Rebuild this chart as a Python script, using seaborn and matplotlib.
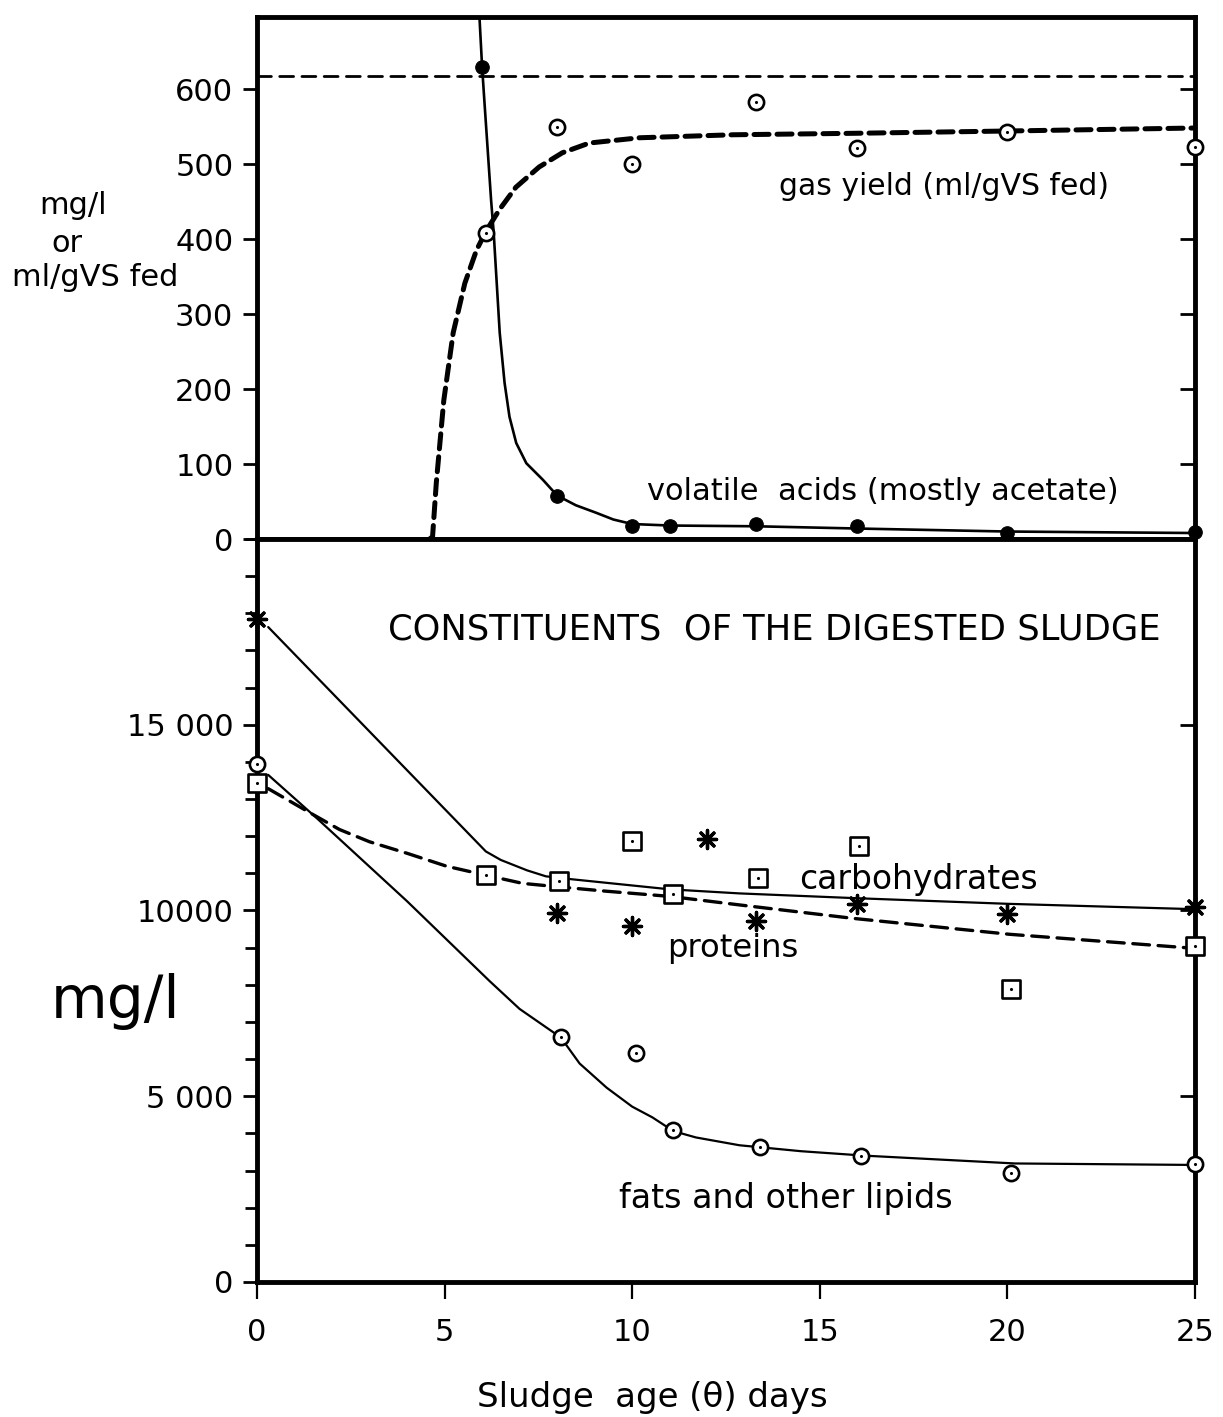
import numpy as np
import matplotlib
matplotlib.use("Agg")
import matplotlib.pyplot as plt
import seaborn as sns

# ---------------- data ----------------
# top panel: volatile acids (mg/l) and gas yield (ml/gVS fed)
va_x = [6.0, 8.0, 10.0, 11.0, 13.3, 16.0, 20.0, 25.0]
va_y = [630, 57, 18, 17, 20, 17, 8, 10]
va_curve_x = [5.93, 6.0, 6.06, 6.24, 6.31, 6.47, 6.6, 6.73, 6.91, 7.18, 7.62, 8.0,
              8.5, 9.04, 9.5, 10.0, 11.0, 13.3, 16.0, 20.0, 25.0]
va_curve_y = [696, 630, 585, 452, 408, 275, 208, 163, 128, 101, 79, 58,
              45, 35, 26, 20, 18, 17, 14, 10, 8]

gas_x = [6.1, 8.0, 10.0, 13.3, 16.0, 20.0, 25.0]
gas_y = [408, 549, 500, 583, 522, 543, 523]
gas_curve_x = [4.6, 4.68, 4.78, 4.98, 5.23, 5.54, 5.85, 6.1, 6.46, 6.9, 7.52, 8.14,
               8.86, 10.2, 12.7, 16.0, 20.0, 25.0]
gas_curve_y = [0, 3, 75, 185, 275, 341, 385, 410, 439, 469, 496, 515,
               528, 535, 539, 541, 544, 548]
gas_reference = 618

# bottom panel: constituents of the digested sludge (mg/l)
prot_x = [0, 8, 10, 12, 13.3, 16, 20, 25]
prot_y = [17850, 9930, 9580, 11930, 9710, 10170, 9900, 10090]
prot_curve_x = [0.3, 6.1, 6.5, 6.8, 7.2, 7.7, 8.4, 11.0, 12.86, 16.0, 20.0, 25.0]
prot_curve_y = [17630, 11590, 11360, 11240, 11080, 10920, 10840, 10570, 10460,
                10330, 10180, 10035]

carb_x = [0, 6.1, 8.05, 10.0, 11.1, 13.35, 16.05, 20.1, 25.0]
carb_y = [13420, 10950, 10790, 11860, 10440, 10870, 11730, 7890, 9040]
carb_curve_x = [0.3, 1.5, 2.2, 3.0, 4.0, 5.06, 6.1, 7.08, 8.0, 9.3, 11.0, 12.86,
                15.87, 20.05, 25.0]
carb_curve_y = [13280, 12580, 12180, 11850, 11540, 11190, 10950, 10730, 10640,
                10520, 10380, 10150, 9790, 9360, 8980]

fat_x = [0, 8.1, 10.1, 11.1, 13.4, 16.1, 20.1, 25.0]
fat_y = [13950, 6600, 6170, 4080, 3620, 3400, 2930, 3170]
fat_curve_x = [0.3, 1.6, 4.0, 6.2, 7.0, 8.1, 8.6, 9.32, 10.0, 10.54, 11.1, 11.7,
               12.86, 14.5, 16.2, 20.2, 25.0]
fat_curve_y = [13650, 12480, 10250, 8100, 7350, 6580, 5880, 5230, 4720, 4430,
               4060, 3890, 3680, 3520, 3400, 3190, 3150]

x_ticks = [0, 5, 10, 15, 20, 25]
top_yticks = [0, 100, 200, 300, 400, 500, 600]
bot_yticks = [0, 5000, 10000, 15000]
bot_yticklabels = ["0", "5 000", "10000", "15 000"]

# ---------------- style ----------------
sns.set_theme(style="ticks")
plt.rcParams["font.family"] = ["DejaVu Sans"]
plt.rcParams["axes.linewidth"] = 3.5
plt.rcParams["text.color"] = "black"
plt.rcParams["axes.edgecolor"] = "black"
plt.rcParams["xtick.color"] = "black"
plt.rcParams["ytick.color"] = "black"
plt.rcParams["lines.solid_joinstyle"] = "round"
plt.rcParams["lines.dash_capstyle"] = "round"

fig = plt.figure(figsize=(12.23, 14.17), dpi=100)
fig.patch.set_facecolor("white")
ax1 = fig.add_axes([0.2101, 0.6196, 0.7670, 0.3684])
ax2 = fig.add_axes([0.2101, 0.0953, 0.7670, 0.5243])
for ax in (ax1, ax2):
    ax.set_facecolor("white")
    for sp in ax.spines.values():
        sp.set_linewidth(3.5)
        sp.set_color("black")


def line(ax, x, y, lw, dash=None, z=3):
    sns.lineplot(x=x, y=y, ax=ax, sort=False, estimator=None, color="black",
                 lw=lw, zorder=z, legend=False)
    ln = ax.lines[-1]
    ln.set_clip_on(True)
    ln.set_solid_joinstyle("round")
    if dash is not None:
        ln.set_linestyle((0, dash))
    return ln


def open_dot(ax, x, y, marker="o", s=120):
    sns.scatterplot(x=x, y=y, ax=ax, marker=marker, s=s, facecolor="white",
                    edgecolor="black", linewidth=1.9, zorder=6, clip_on=False,
                    legend=False)
    sns.scatterplot(x=x, y=y, ax=ax, marker="o", s=5, color="black",
                    edgecolor="black", linewidth=0, zorder=7, clip_on=False,
                    legend=False)


# ---------------- top panel ----------------
ax1.axhline(gas_reference, color="black", lw=2.0, linestyle=(0, (5, 3)), zorder=2)
line(ax1, va_curve_x, va_curve_y, 1.9)
line(ax1, gas_curve_x, gas_curve_y, 3.6, dash=(3, 1.6))
sns.scatterplot(x=va_x, y=va_y, ax=ax1, marker="o", s=95, color="black",
                edgecolor="black", zorder=6, clip_on=False, legend=False)
open_dot(ax1, gas_x, gas_y, "o", 120)

ax1.set_xlim(0, 25)
ax1.set_ylim(0, 696)
ax1.set_xticks(x_ticks)
ax1.tick_params(axis="x", direction="out", length=11, width=1.6, labelbottom=False)
ax1.set_yticks(top_yticks)
ax1.tick_params(axis="y", direction="out", length=10, width=2.0, labelsize=22, pad=7)
ax1.set_xlabel("")
ax1.set_ylabel("")
tw1 = ax1.twinx()
tw1.set_ylim(0, 696)
tw1.set_yticks(top_yticks)
tw1.tick_params(axis="y", direction="in", length=11, width=2.0, labelright=False)
for sp in tw1.spines.values():
    sp.set_visible(False)

ax1.text(13.9, 470, "gas yield (ml/gVS fed)", fontsize=21.5, va="center", ha="left")
ax1.text(10.4, 63, "volatile  acids (mostly acetate)", fontsize=22, va="center", ha="left")

# ---------------- bottom panel ----------------
line(ax2, prot_curve_x, prot_curve_y, 1.6)
line(ax2, carb_curve_x, carb_curve_y, 2.4, dash=(5, 2.6))
line(ax2, fat_curve_x, fat_curve_y, 1.6)

sns.scatterplot(x=prot_x, y=prot_y, ax=ax2, marker=(8, 2, 0), s=170,
                color="black", linewidth=2.4, zorder=6, clip_on=False, legend=False)
open_dot(ax2, carb_x, carb_y, "s", 150)
open_dot(ax2, fat_x, fat_y, "o", 120)

ax2.set_xlim(0, 25)
ax2.set_ylim(0, 20000)
ax2.set_xticks(x_ticks)
ax2.set_xticklabels([str(v) for v in x_ticks])
ax2.tick_params(axis="x", direction="out", length=12, width=1.6, labelsize=22, pad=14)
ax2.set_yticks(bot_yticks)
ax2.set_yticklabels(bot_yticklabels)
ax2.set_yticks(np.arange(0, 20001, 1000), minor=True)
ax2.tick_params(axis="y", which="major", direction="out", length=10, width=2.0,
                labelsize=22, pad=7)
ax2.tick_params(axis="y", which="minor", direction="out", length=9, width=2.0)
ax2.set_xlabel("")
ax2.set_ylabel("")
tw2 = ax2.twinx()
tw2.set_ylim(0, 20000)
tw2.set_yticks(bot_yticks)
tw2.tick_params(axis="y", direction="in", length=11, width=2.0, labelright=False)
for sp in tw2.spines.values():
    sp.set_visible(False)

ax2.text(3.49, 17575, "CONSTITUENTS  OF THE DIGESTED SLUDGE", fontsize=25.4,
         va="center", ha="left")
ax2.text(14.46, 10840, "carbohydrates", fontsize=23.8, va="center", ha="left")
ax2.text(10.94, 8990, "proteins", fontsize=23.2, va="center", ha="left")
ax2.text(9.66, 2254, "fats and other lipids", fontsize=24, va="center", ha="left")

# ---------------- axis titles ----------------
W, H = 1223, 1417
fig.text(73 / W, 1 - 205 / H, "mg/l", fontsize=22, ha="center", va="center")
fig.text(67 / W, 1 - 243 / H, "or", fontsize=22, ha="center", va="center")
fig.text(12 / W, 1 - 278 / H, "ml/gVS fed", fontsize=22, ha="left", va="center")
fig.text(116 / W, 1 - 1002 / H, "mg/l", fontsize=42, ha="center", va="center")
fig.text(652 / W, 1 - 1397 / H, "Sludge  age (\u03b8) days", fontsize=24.5,
         ha="center", va="center")

fig.savefig("out.png", dpi=100, facecolor="white")
